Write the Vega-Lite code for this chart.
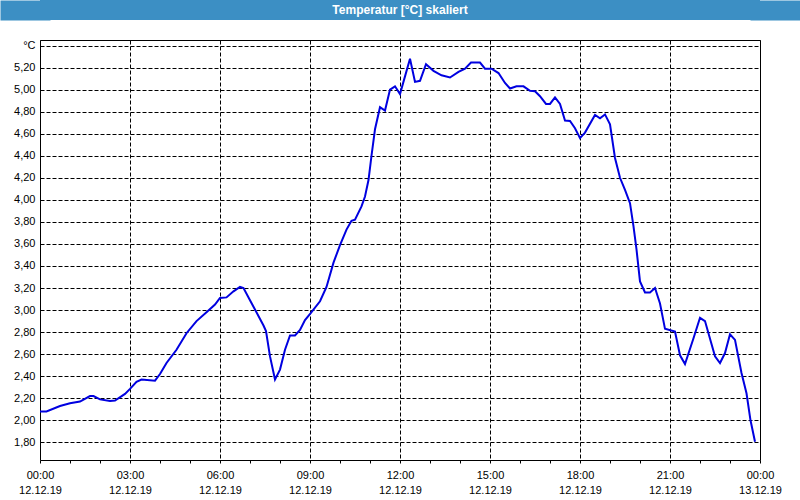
{
  "$schema": "https://vega.github.io/schema/vega-lite/v6.json",
  "padding": {"left": -5, "right": -5, "top": -5, "bottom": 0},
  "background": "white",
  "spacing": 14,
  "config": {
    "font": "Liberation Sans",
    "axis": {"labelFont": "Liberation Sans", "labelFontSize": 11, "labelColor": "black"}
  },
  "vconcat": [
    {
      "width": 720,
      "height": 20,
      "view": {"fill": "#3c8fc4", "stroke": null},
      "data": {"values": [{"t": "Temperatur [°C] skaliert"}]},
      "layer": [
        {
          "mark": {"type": "rect", "color": "#3c8fc4"},
          "encoding": {
            "y": {
              "datum": 0,
              "type": "quantitative",
              "scale": {"domain": [0, 1], "nice": false, "zero": false},
              "axis": {"orient": "left", "title": null, "labels": false, "domain": false, "grid": false, "values": [0.5], "ticks": true, "tickSize": 30, "tickWidth": 20, "tickCap": "square", "tickColor": "#3c8fc4", "offset": 0, "minExtent": 0}
            },
            "y2": {"datum": 1}
          }
        },
        {
          "mark": {"type": "text", "font": "Liberation Sans", "fontSize": 12, "fontWeight": "bold", "color": "white", "align": "center", "baseline": "middle"},
          "encoding": {
            "text": {"field": "t"},
            "y": {
              "datum": 0.5,
              "type": "quantitative",
              "axis": {"orient": "right", "title": null, "labels": false, "domain": false, "grid": false, "values": [0.5], "ticks": true, "tickSize": 30, "tickWidth": 20, "tickCap": "square", "tickColor": "#3c8fc4", "offset": 0, "minExtent": 0}
            }
          }
        }
      ],
      "resolve": {"axis": {"y": "independent"}}
    },
    {
      "width": 720,
      "height": 420,
      "view": {"fill": "white", "stroke": "black", "strokeWidth": 1},
      "data": {"values": [
        {"time": "2019-12-12T00:00:00", "temp": 2.08},
        {"time": "2019-12-12T00:13:00", "temp": 2.08},
        {"time": "2019-12-12T00:40:00", "temp": 2.13},
        {"time": "2019-12-12T01:00:00", "temp": 2.155},
        {"time": "2019-12-12T01:20:00", "temp": 2.17},
        {"time": "2019-12-12T01:40:00", "temp": 2.22},
        {"time": "2019-12-12T01:47:00", "temp": 2.22},
        {"time": "2019-12-12T02:00:00", "temp": 2.19},
        {"time": "2019-12-12T02:20:00", "temp": 2.175},
        {"time": "2019-12-12T02:30:00", "temp": 2.18},
        {"time": "2019-12-12T02:50:00", "temp": 2.24},
        {"time": "2019-12-12T03:00:00", "temp": 2.285},
        {"time": "2019-12-12T03:13:00", "temp": 2.35},
        {"time": "2019-12-12T03:23:00", "temp": 2.37},
        {"time": "2019-12-12T03:50:00", "temp": 2.36},
        {"time": "2019-12-12T04:00:00", "temp": 2.42},
        {"time": "2019-12-12T04:13:00", "temp": 2.52},
        {"time": "2019-12-12T04:33:00", "temp": 2.64},
        {"time": "2019-12-12T04:53:00", "temp": 2.79},
        {"time": "2019-12-12T05:13:00", "temp": 2.90},
        {"time": "2019-12-12T05:33:00", "temp": 2.98},
        {"time": "2019-12-12T05:50:00", "temp": 3.05},
        {"time": "2019-12-12T06:00:00", "temp": 3.11},
        {"time": "2019-12-12T06:13:00", "temp": 3.115},
        {"time": "2019-12-12T06:27:00", "temp": 3.17},
        {"time": "2019-12-12T06:40:00", "temp": 3.21},
        {"time": "2019-12-12T06:47:00", "temp": 3.20},
        {"time": "2019-12-12T07:00:00", "temp": 3.09},
        {"time": "2019-12-12T07:07:00", "temp": 3.03},
        {"time": "2019-12-12T07:27:00", "temp": 2.86},
        {"time": "2019-12-12T07:32:00", "temp": 2.81},
        {"time": "2019-12-12T07:40:00", "temp": 2.58},
        {"time": "2019-12-12T07:50:00", "temp": 2.37},
        {"time": "2019-12-12T08:00:00", "temp": 2.46},
        {"time": "2019-12-12T08:10:00", "temp": 2.64},
        {"time": "2019-12-12T08:20:00", "temp": 2.77},
        {"time": "2019-12-12T08:30:00", "temp": 2.77},
        {"time": "2019-12-12T08:40:00", "temp": 2.82},
        {"time": "2019-12-12T08:50:00", "temp": 2.91},
        {"time": "2019-12-12T09:01:00", "temp": 2.97},
        {"time": "2019-12-12T09:20:00", "temp": 3.08},
        {"time": "2019-12-12T09:33:00", "temp": 3.21},
        {"time": "2019-12-12T09:47:00", "temp": 3.43},
        {"time": "2019-12-12T10:00:00", "temp": 3.59},
        {"time": "2019-12-12T10:13:00", "temp": 3.73},
        {"time": "2019-12-12T10:23:00", "temp": 3.81},
        {"time": "2019-12-12T10:30:00", "temp": 3.82},
        {"time": "2019-12-12T10:43:00", "temp": 3.94},
        {"time": "2019-12-12T10:50:00", "temp": 4.03},
        {"time": "2019-12-12T10:57:00", "temp": 4.18},
        {"time": "2019-12-12T11:03:00", "temp": 4.40},
        {"time": "2019-12-12T11:10:00", "temp": 4.64},
        {"time": "2019-12-12T11:20:00", "temp": 4.84},
        {"time": "2019-12-12T11:30:00", "temp": 4.81},
        {"time": "2019-12-12T11:40:00", "temp": 5.00},
        {"time": "2019-12-12T11:50:00", "temp": 5.03},
        {"time": "2019-12-12T12:00:00", "temp": 4.96},
        {"time": "2019-12-12T12:10:00", "temp": 5.12},
        {"time": "2019-12-12T12:20:00", "temp": 5.28},
        {"time": "2019-12-12T12:30:00", "temp": 5.07},
        {"time": "2019-12-12T12:40:00", "temp": 5.08},
        {"time": "2019-12-12T12:52:00", "temp": 5.23},
        {"time": "2019-12-12T13:07:00", "temp": 5.17},
        {"time": "2019-12-12T13:23:00", "temp": 5.13},
        {"time": "2019-12-12T13:40:00", "temp": 5.11},
        {"time": "2019-12-12T13:57:00", "temp": 5.16},
        {"time": "2019-12-12T14:10:00", "temp": 5.19},
        {"time": "2019-12-12T14:22:00", "temp": 5.245},
        {"time": "2019-12-12T14:40:00", "temp": 5.245},
        {"time": "2019-12-12T14:50:00", "temp": 5.19},
        {"time": "2019-12-12T15:03:00", "temp": 5.19},
        {"time": "2019-12-12T15:17:00", "temp": 5.15},
        {"time": "2019-12-12T15:30:00", "temp": 5.06},
        {"time": "2019-12-12T15:40:00", "temp": 5.01},
        {"time": "2019-12-12T15:53:00", "temp": 5.03},
        {"time": "2019-12-12T16:07:00", "temp": 5.03},
        {"time": "2019-12-12T16:20:00", "temp": 4.99},
        {"time": "2019-12-12T16:30:00", "temp": 4.985},
        {"time": "2019-12-12T16:40:00", "temp": 4.94},
        {"time": "2019-12-12T16:52:00", "temp": 4.87},
        {"time": "2019-12-12T17:00:00", "temp": 4.87},
        {"time": "2019-12-12T17:10:00", "temp": 4.93},
        {"time": "2019-12-12T17:20:00", "temp": 4.87},
        {"time": "2019-12-12T17:30:00", "temp": 4.72},
        {"time": "2019-12-12T17:40:00", "temp": 4.715},
        {"time": "2019-12-12T17:50:00", "temp": 4.65},
        {"time": "2019-12-12T18:00:00", "temp": 4.56},
        {"time": "2019-12-12T18:10:00", "temp": 4.61},
        {"time": "2019-12-12T18:30:00", "temp": 4.77},
        {"time": "2019-12-12T18:40:00", "temp": 4.74},
        {"time": "2019-12-12T18:50:00", "temp": 4.775},
        {"time": "2019-12-12T19:00:00", "temp": 4.685},
        {"time": "2019-12-12T19:10:00", "temp": 4.38},
        {"time": "2019-12-12T19:20:00", "temp": 4.20},
        {"time": "2019-12-12T19:30:00", "temp": 4.09},
        {"time": "2019-12-12T19:40:00", "temp": 3.97},
        {"time": "2019-12-12T19:47:00", "temp": 3.76},
        {"time": "2019-12-12T19:53:00", "temp": 3.55},
        {"time": "2019-12-12T20:00:00", "temp": 3.26},
        {"time": "2019-12-12T20:10:00", "temp": 3.16},
        {"time": "2019-12-12T20:20:00", "temp": 3.16},
        {"time": "2019-12-12T20:30:00", "temp": 3.20},
        {"time": "2019-12-12T20:40:00", "temp": 3.06},
        {"time": "2019-12-12T20:50:00", "temp": 2.83},
        {"time": "2019-12-12T21:10:00", "temp": 2.805},
        {"time": "2019-12-12T21:20:00", "temp": 2.59},
        {"time": "2019-12-12T21:30:00", "temp": 2.51},
        {"time": "2019-12-12T21:47:00", "temp": 2.745},
        {"time": "2019-12-12T22:00:00", "temp": 2.93},
        {"time": "2019-12-12T22:10:00", "temp": 2.90},
        {"time": "2019-12-12T22:30:00", "temp": 2.58},
        {"time": "2019-12-12T22:40:00", "temp": 2.52},
        {"time": "2019-12-12T22:50:00", "temp": 2.61},
        {"time": "2019-12-12T23:00:00", "temp": 2.78},
        {"time": "2019-12-12T23:10:00", "temp": 2.73},
        {"time": "2019-12-12T23:23:00", "temp": 2.43},
        {"time": "2019-12-12T23:33:00", "temp": 2.245},
        {"time": "2019-12-12T23:41:00", "temp": 2.00},
        {"time": "2019-12-12T23:50:00", "temp": 1.805}
      ]},
      "mark": {"type": "line", "color": "#0000e0", "strokeWidth": 2, "clip": true},
      "encoding": {
        "x": {
          "field": "time",
          "type": "temporal",
          "scale": {"domain": ["2019-12-12T00:00:00", "2019-12-13T00:00:00"], "nice": false},
          "axis": {
            "title": null,
            "domain": false,
            "values": [
              "2019-12-12T00:00:00", "2019-12-12T01:00:00", "2019-12-12T02:00:00", "2019-12-12T03:00:00",
              "2019-12-12T04:00:00", "2019-12-12T05:00:00", "2019-12-12T06:00:00", "2019-12-12T07:00:00",
              "2019-12-12T08:00:00", "2019-12-12T09:00:00", "2019-12-12T10:00:00", "2019-12-12T11:00:00",
              "2019-12-12T12:00:00", "2019-12-12T13:00:00", "2019-12-12T14:00:00", "2019-12-12T15:00:00",
              "2019-12-12T16:00:00", "2019-12-12T17:00:00", "2019-12-12T18:00:00", "2019-12-12T19:00:00",
              "2019-12-12T20:00:00", "2019-12-12T21:00:00", "2019-12-12T22:00:00", "2019-12-12T23:00:00",
              "2019-12-13T00:00:00"
            ],
            "tickSize": 3,
            "tickColor": "black",
            "labelPadding": 6,
            "labelFlush": false,
            "labelOverlap": false,
            "labelLineHeight": 15,
            "labelBaseline": "top",
            "labelExpr": "hours(datum.value) % 3 === 0 ? [timeFormat(datum.value, '%H:%M'), timeFormat(datum.value, '%d.%m.%y')] : ''",
            "grid": true,
            "gridColor": "black",
            "gridDash": [4, 2],
            "gridWidth": 1,
            "gridOpacity": {"condition": {"test": "hours(datum.value) % 3 !== 0", "value": 0}, "value": 1}
          }
        },
        "y": {
          "field": "temp",
          "type": "quantitative",
          "scale": {"domain": [1.64, 5.45], "nice": false, "zero": false},
          "axis": {
            "title": null,
            "domain": false,
            "ticks": false,
            "labelPadding": 5,
            "minExtent": 40,
            "labelOverlap": false,
            "labelFlush": false,
            "values": [1.8, 2.0, 2.2, 2.4, 2.6, 2.8, 3.0, 3.2, 3.4, 3.6, 3.8, 4.0, 4.2, 4.4, 4.6, 4.8, 5.0, 5.2, 5.4],
            "labelExpr": "datum.value > 5.3 ? '°C' : replace(format(datum.value, '.2f'), '.', ',')",
            "grid": true,
            "gridColor": "black",
            "gridDash": [4, 2],
            "gridWidth": 1
          }
        }
      }
    }
  ]
}
